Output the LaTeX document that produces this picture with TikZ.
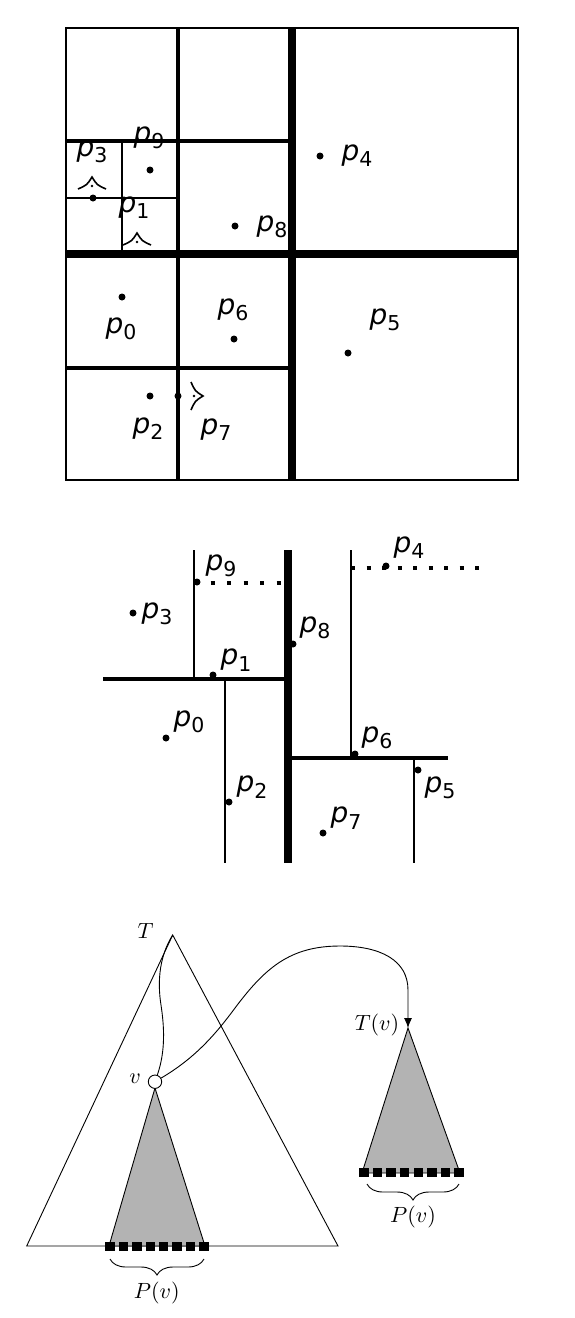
\documentclass[tikz,border=0pt]{standalone}
\usepackage{fontspec}
\usepackage{amsmath}
\usetikzlibrary{arrows.meta,decorations.pathreplacing}
\newfontfamily\lblfont{DejaVu Sans}
\newcommand{\plab}[1]{{\lblfont\fontsize{28}{28}\selectfont\itshape p}\raisebox{-6.3pt}{\lblfont\fontsize{20.5}{20.5}\selectfont #1}}
\newcommand{\tlab}[1]{\scalebox{2.2}{$#1$}}

\begin{document}
\begin{tikzpicture}[x=1pt,y=-1pt,
  border/.style={line width=1.8pt},
  heavy/.style={line width=8pt},
  mid/.style={line width=3.5pt},
  light/.style={line width=2pt},
  dot/.style={circle,fill,inner sep=0pt,minimum size=7pt},
  dotline/.style={line width=4pt,dash pattern=on 4pt off 12.5pt},
  lbl/.style={inner sep=0pt},
  tri/.style={line width=0.9pt},
  leaf/.style={rectangle,fill,inner sep=0pt,minimum size=9.5pt},
  brc/.style={decorate,decoration={brace,amplitude=16pt,mirror},line width=0.9pt},
  succmark/.pic={
    \draw[line width=1.6pt] (-4,-14) .. controls (0,-5) .. (8,0) .. controls (0,5) .. (-4,14);
    \fill (-1,0) circle (1.3);
  }]
\useasboundingbox (0,0) rectangle (574,1318);

% quadtree
\draw[border] (66,28) rectangle (518,480);
\draw[heavy] (292,28) -- (292,480);
\draw[heavy] (66,254) -- (518,254);
\draw[mid] (178,28) -- (178,480);
\draw[mid] (66,141) -- (292,141);
\draw[mid] (66,368) -- (292,368);
\draw[light] (122,141) -- (122,254);
\draw[light] (66,198) -- (178,198);

\foreach \n/\x/\y in {9/150/170, 3/93/198, 8/235/226, 4/320/156, 5/348/353,
                      0/122/297, 6/234/339, 2/150/396, 7/178/396}
  \node[dot] (q\n) at (\x,\y) {};
\foreach \n/\x/\y in {9/149/138, 3/92/152, 1/134/208, 8/272/227, 4/357/156,
                      5/385/320, 0/121/329, 6/233/310, 2/148/429, 7/216/430}
  \node[lbl] (ql\n) at (\x,\y) {\plab{\n}};

\pic[rotate=90] at (92,185) {succmark};
\pic[rotate=90] at (137,241) {succmark};
\pic at (195,396) {succmark};

% kd-tree
\draw[heavy] (288,550) -- (288,863);
\draw[mid] (103,679) -- (288,679);
\draw[mid] (288,758) -- (448,758);
\draw[light] (194,550) -- (194,679);
\draw[light] (225,679) -- (225,863);
\draw[light] (351,550) -- (351,758);
\draw[light] (414,758) -- (414,863);
\draw[dotline] (194,583) -- (288,583);
\draw[dotline,dash pattern=on 4pt off 11.5pt] (351,568) -- (482,568);

\foreach \n/\x/\y in {9/197/582, 3/133/613, 1/213/675, 0/166/738, 2/229/802,
                      8/293/644, 4/386/566, 6/355/754, 5/418/770, 7/323/833}
  \node[dot] (k\n) at (\x,\y) {};
\foreach \n/\x/\y in {9/221/566, 3/157/614, 1/236/660, 0/189/722, 2/252/787,
                      8/315/628, 4/409/548, 6/377/738, 5/440/788, 7/346/818}
  \node[lbl] (kl\n) at (\x,\y) {\plab{\n}};

% trees
\coordinate (Ttop) at (172.7,935);
\coordinate (Tvtop) at (408,1028);
\draw[tri] (Ttop) -- (26.7,1246) -- (338,1246) -- cycle;
\filldraw[tri,fill={rgb,255:red,179;green,179;blue,179}] (155,1088) -- (109,1246) -- (205,1246) -- cycle;
\filldraw[tri,fill={rgb,255:red,179;green,179;blue,179}] (Tvtop) -- (362,1173) -- (460,1173) -- cycle;
\foreach \i in {0,...,7} {
  \node[leaf] (a\i) at (110+\i*13.43,1246.5) {};
  \node[leaf] (b\i) at (364+\i*13.57,1172.5) {};
}
\node[circle,draw,fill=white,tri,inner sep=0pt,minimum size=13.4pt] (v) at (155,1081.7) {};

\draw[tri] (Ttop) .. controls (160,955) and (157,980) .. (161,1005)
  .. controls (164,1025) and (166,1050) .. (v);
\draw[tri,-{Latex[length=10pt,width=8pt]}] (v) .. controls (195,1058) and (215,1035) .. (235,1008)
  .. controls (265,968) and (290,946) .. (340,946)
  .. controls (380,946) and (408,960) .. (408,990) -- (Tvtop);

\draw[brc] (110,1259) -- (204,1259);
\draw[brc] (367,1184) -- (459,1184);

\node[lbl] (Tlab) at (145.5,931) {\tlab{T}};
\node[lbl] (vlab) at (135,1079) {\tlab{v}};
\node[lbl] (Tvlab) at (377,1025) {\tlab{T(v)}};
\node[lbl] (Pl) at (156.7,1293) {\tlab{P(v)}};
\node[lbl] (Pr) at (413,1217) {\tlab{P(v)}};
\end{tikzpicture}
\end{document}
